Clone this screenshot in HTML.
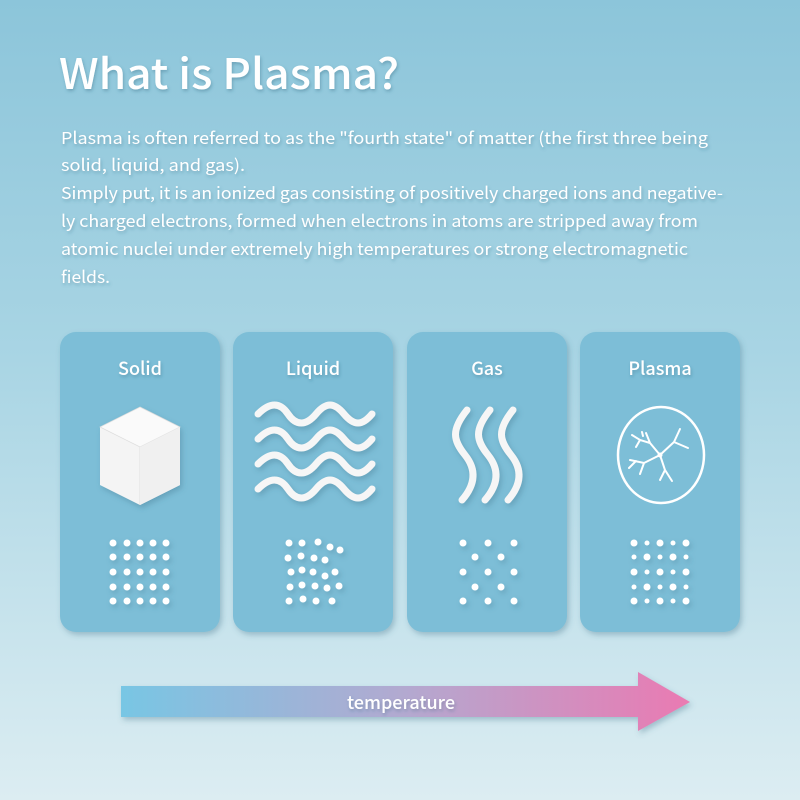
<!DOCTYPE html>
<html><head><meta charset="utf-8"><style>
html,body{margin:0;padding:0;width:800px;height:800px;overflow:hidden}
svg text{font-family:"Noto Sans CJK JP","Liberation Sans",sans-serif;fill:#fff}
</style></head><body>
<svg width="800" height="800" viewBox="0 0 800 800" xmlns="http://www.w3.org/2000/svg">
<defs>
<linearGradient id="bg" x1="0" y1="0" x2="0" y2="1">
<stop offset="0" stop-color="#8cc5da"/><stop offset="0.45" stop-color="#a9d5e4"/><stop offset="1" stop-color="#dcedf2"/>
</linearGradient>
<linearGradient id="ar" x1="0" y1="0" x2="1" y2="0">
<stop offset="0" stop-color="#78c6e4"/><stop offset="0.5" stop-color="#b3a9d0"/><stop offset="1" stop-color="#ea7ab2"/>
</linearGradient>
<filter id="sh" x="-20%" y="-20%" width="140%" height="140%"><feDropShadow dx="2" dy="3" stdDeviation="3" flood-color="#3a6f85" flood-opacity="0.35"/></filter>
<filter id="ts" x="-10%" y="-30%" width="120%" height="160%"><feDropShadow dx="1" dy="2" stdDeviation="1.5" flood-color="#2d6075" flood-opacity="0.35"/></filter>
</defs>
<rect width="800" height="800" fill="url(#bg)"/>
<g filter="url(#ts)">
<text x="59" y="89" font-size="42" font-weight="500" textLength="340" lengthAdjust="spacingAndGlyphs">What is Plasma?</text>
<g font-size="16.5">
<text x="61" y="144" textLength="647" lengthAdjust="spacingAndGlyphs">Plasma is often referred to as the "fourth state" of matter (the first three being</text>
<text x="61" y="171" textLength="184" lengthAdjust="spacingAndGlyphs">solid, liquid, and gas).</text>
<text x="61" y="199" textLength="662" lengthAdjust="spacingAndGlyphs">Simply put, it is an ionized gas consisting of positively charged ions and negative-</text>
<text x="61" y="227" textLength="637" lengthAdjust="spacingAndGlyphs">ly charged electrons, formed when electrons in atoms are stripped away from</text>
<text x="61" y="255" textLength="627" lengthAdjust="spacingAndGlyphs">atomic nuclei under extremely high temperatures or strong electromagnetic</text>
<text x="61" y="283" textLength="49" lengthAdjust="spacingAndGlyphs">fields.</text>
</g>
</g>
<g filter="url(#sh)" fill="#7dbed7">
<rect x="60" y="332" width="160" height="300" rx="16"/>
<rect x="233" y="332" width="160" height="300" rx="16"/>
<rect x="407" y="332" width="160" height="300" rx="16"/>
<rect x="580" y="332" width="160" height="300" rx="16"/>
</g>
<g font-size="18" font-weight="500" text-anchor="middle" filter="url(#ts)">
<text x="140" y="375">Solid</text>
<text x="313" y="375">Liquid</text>
<text x="487" y="375">Gas</text>
<text x="660" y="375">Plasma</text>
</g>
<g filter="url(#sh)">
<polygon points="140,407 180,427 180,485 140,505 100,485 100,427" fill="#f4f4f4"/>
<polygon points="140,407 180,427 140,447 100,427" fill="#fafafa" stroke="#ddd" stroke-width="0.7"/>
<line x1="140" y1="447" x2="140" y2="505" stroke="#ddd" stroke-width="0.8"/>
<polygon points="140,447 180,427 180,485 140,505" fill="#f0f0f0"/>
</g>
<g fill="none" stroke="#f6f6f6" stroke-width="7" stroke-linecap="round" filter="url(#sh)">
<path d="M258,414 c12,-12 22,-12 30,0 s18,12 28,0 s18,-12 28,0 s18,12 28,0"/>
<path d="M258,439 c12,-12 22,-12 30,0 s18,12 28,0 s18,-12 28,0 s18,12 28,0"/>
<path d="M258,464 c12,-12 22,-12 30,0 s18,12 28,0 s18,-12 28,0 s18,12 28,0"/>
<path d="M258,489 c12,-12 22,-12 30,0 s18,12 28,0 s18,-12 28,0 s18,12 28,0"/>
</g>
<g transform="translate(0,-2)" fill="none" stroke="#f6f6f6" stroke-width="7" stroke-linecap="round" filter="url(#sh)">
<path d="M467,412 c-16,20 -14,30 -2,45 s10,30 -3,45"/>
<path d="M490,412 c-16,20 -14,30 -2,45 s10,30 -3,45"/>
<path d="M513,412 c-16,20 -14,30 -2,45 s10,30 -3,45"/>
</g>
<g fill="none" stroke="#fff" stroke-linecap="round">
<ellipse cx="661" cy="455" rx="43" ry="48" stroke-width="2.5"/>
<g stroke-width="2">
<path d="M660,455 L650,443 L640,440 L632,435 M640,440 L636,447 M650,443 L646,433 M643,436 L642,432"/>
<path d="M660,455 L674,442 L680,429 M674,442 L688,448"/>
<path d="M660,455 L644,463 L630,460 M644,463 L640,474 M636,461 L629,468"/>
<path d="M660,455 L665,470 L660,480 M665,470 L672,481"/>
</g>
<circle cx="660" cy="455" r="2" fill="#fff"/>
</g>
<g fill="#fff" filter="url(#sh)">
<circle cx="113" cy="543" r="3.5"/><circle cx="127" cy="543" r="3.5"/><circle cx="140" cy="543" r="3.5"/><circle cx="153" cy="543" r="3.5"/><circle cx="166" cy="543" r="3.5"/>
<circle cx="113" cy="557" r="3.5"/><circle cx="127" cy="557" r="3.5"/><circle cx="140" cy="557" r="3.5"/><circle cx="153" cy="557" r="3.5"/><circle cx="166" cy="557" r="3.5"/>
<circle cx="113" cy="572" r="3.5"/><circle cx="127" cy="572" r="3.5"/><circle cx="140" cy="572" r="3.5"/><circle cx="153" cy="572" r="3.5"/><circle cx="166" cy="572" r="3.5"/>
<circle cx="113" cy="587" r="3.5"/><circle cx="127" cy="587" r="3.5"/><circle cx="140" cy="587" r="3.5"/><circle cx="153" cy="587" r="3.5"/><circle cx="166" cy="587" r="3.5"/>
<circle cx="113" cy="601" r="3.5"/><circle cx="127" cy="601" r="3.5"/><circle cx="140" cy="601" r="3.5"/><circle cx="153" cy="601" r="3.5"/><circle cx="166" cy="601" r="3.5"/>
<circle cx="289" cy="543" r="3.5"/><circle cx="302" cy="543" r="3.5"/><circle cx="318" cy="542" r="3.5"/><circle cx="330" cy="547" r="3.5"/><circle cx="340" cy="550" r="3.5"/>
<circle cx="288" cy="558" r="3.5"/><circle cx="301" cy="556" r="3.5"/><circle cx="314" cy="558" r="3.5"/><circle cx="325" cy="560" r="3.5"/>
<circle cx="291" cy="572" r="3.5"/><circle cx="302" cy="570" r="3.5"/><circle cx="313" cy="572" r="3.5"/><circle cx="325" cy="576" r="3.5"/><circle cx="335" cy="572" r="3.5"/>
<circle cx="290" cy="587" r="3.5"/><circle cx="302" cy="585" r="3.5"/><circle cx="315" cy="586" r="3.5"/><circle cx="327" cy="588" r="3.5"/><circle cx="339" cy="586" r="3.5"/>
<circle cx="289" cy="601" r="3.5"/><circle cx="303" cy="599" r="3.5"/><circle cx="316" cy="601" r="3.5"/><circle cx="332" cy="601" r="3.5"/>
<circle cx="463" cy="543" r="3.5"/><circle cx="488" cy="543" r="3.5"/><circle cx="514" cy="543" r="3.5"/>
<circle cx="475" cy="557" r="3.5"/><circle cx="501" cy="557" r="3.5"/>
<circle cx="463" cy="572" r="3.5"/><circle cx="488" cy="572" r="3.5"/><circle cx="514" cy="572" r="3.5"/>
<circle cx="475" cy="587" r="3.5"/><circle cx="501" cy="587" r="3.5"/>
<circle cx="463" cy="601" r="3.5"/><circle cx="488" cy="601" r="3.5"/><circle cx="514" cy="601" r="3.5"/>
<circle cx="634" cy="543" r="3.5"/><circle cx="647" cy="543" r="2.5"/><circle cx="660" cy="543" r="3.5"/><circle cx="673" cy="543" r="2.5"/><circle cx="686" cy="543" r="3.5"/>
<circle cx="634" cy="557" r="2.5"/><circle cx="647" cy="557" r="3.5"/><circle cx="660" cy="557" r="2.5"/><circle cx="673" cy="557" r="3.5"/><circle cx="686" cy="557" r="2.5"/>
<circle cx="634" cy="572" r="3.5"/><circle cx="647" cy="572" r="2.5"/><circle cx="660" cy="572" r="3.5"/><circle cx="673" cy="572" r="2.5"/><circle cx="686" cy="572" r="3.5"/>
<circle cx="634" cy="587" r="2.5"/><circle cx="647" cy="587" r="3.5"/><circle cx="660" cy="587" r="2.5"/><circle cx="673" cy="587" r="3.5"/><circle cx="686" cy="587" r="2.5"/>
<circle cx="634" cy="601" r="3.5"/><circle cx="647" cy="601" r="2.5"/><circle cx="660" cy="601" r="3.5"/><circle cx="673" cy="601" r="2.5"/><circle cx="686" cy="601" r="3.5"/>
</g>
<polygon points="121,686 638,686 638,672 690,702 638,731 638,717 121,717" fill="url(#ar)" filter="url(#sh)"/>
<text x="401" y="709" font-size="18" font-weight="500" text-anchor="middle" filter="url(#ts)">temperature</text>
</svg>
</body></html>
